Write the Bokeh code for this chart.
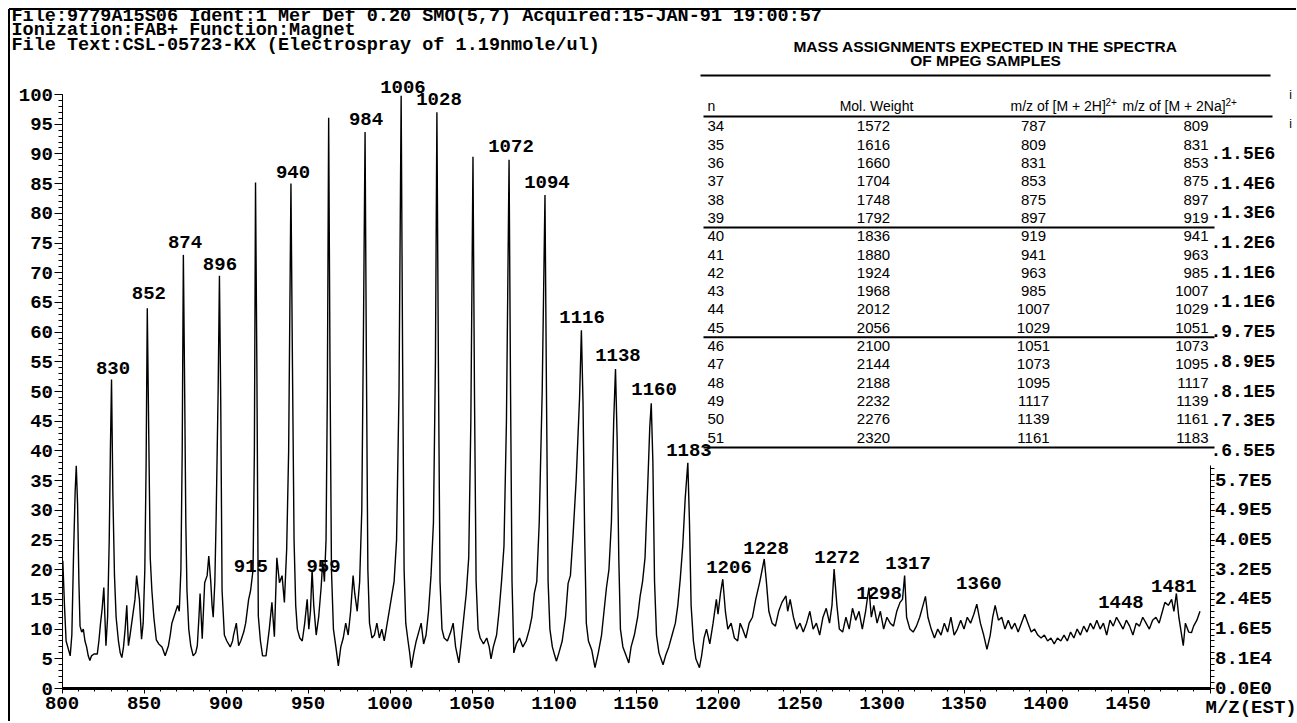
from bokeh.plotting import figure
from bokeh.models import (Range1d, LinearAxis, FixedTicker, Label, LabelSet, ColumnDataSource)
from bokeh.core.properties import value
from bokeh.embed import file_html
from bokeh.resources import INLINE

# ---------------- data ----------------
header_lines = [
    "File:9779A15S06 Ident:1 Mer Def 0.20 SMO(5,7) Acquired:15-JAN-91 19:00:57",
    "Ionization:FAB+ Function:Magnet",
    "File Text:CSL-05723-KX (Electrospray of 1.19nmole/ul)",
]

# spectrum trace (m/z, relative intensity %)
trace_800 = [(800.5,21.5),(801.5,14),(802.5,8),(804,6.5),(805,5.5),(806,9),(807,22),(808,33),(808.7,37.5),(809.5,31),
             (810.3,18),(811,10.5),(812,9.5),(813,10),(814,8),(815,7),(816,5.5),(817,4.7),(818,5.5),(819.5,5.8),
             (821.5,5.8),(822.5,8),(823.5,11),(824.5,13.5),(825.5,17),(826.8,7.2),(827.8,12),(828.8,25),(829.5,40),(830.2,52),
             (831,33),(832,19),(833,12),(834.4,8),(835.5,6),(836.5,5.2),(837.5,7),(838.5,10),(839.5,14),(840.5,7.2),
             (841.5,9),(843,12),(844.5,15),(845.5,19),(846.5,16.5),(847.2,15),(848.5,8.3),(849.5,11),(850.5,20),(851.3,38),
             (852,64),(852.8,45),(853.8,22),(854.8,16.5),(856,12),(857.5,8.2),(859,7.5),(861,7),(862.9,5.5),(864.9,7.2),
             (866,9),(867,11),(869,12.7),(870.5,14),(871.5,13),(872.5,20),(873.3,40),(874,73),(874.8,50),(875.5,28),
             (876.2,16.5),(877.3,10),(878.5,7.2),(880,5.5),(881.5,6),(882.5,7.2),(883.5,12),(884.2,16),(885.5,8.4),(887,17.8),
             (888.5,19),(889.5,22.3),(890.7,18),(891.5,14),(892.2,12),(893.2,18),(894,29),(895.2,50),(896,69.5),(896.8,48),
             (897.6,16.5),(899,9)]
trace_900 = [(900.5,8),(902.6,7),(904,8),(904.6,9),(906.3,11),(907.7,7.2),(909,8),(910.8,9.5),(912,11),(913.8,15),
             (915,16.5),(916.5,20),(917.3,40),(918,85.2),(918.8,55),(919.7,12.2),(921,8),(922.3,5.5),(924.4,5.5),(926.4,10),
             (928,14.5),(929.5,8.7),(931,22),(932.6,17.8),(934.2,19),(935.6,14.5),(937,23.5),(938.2,40),(939.6,85),(940.5,55),
             (941.5,25),(942.5,14),(943.5,10),(945,8.5),(946.5,8),(948,11),(949.5,15),(950.5,10),(951.5,13),(952.5,20),
             (953.5,14),(955,9),(956.5,12),(958,17),(959,21.5),(960,18),(961,25),(961.8,50),(962.6,96.1),(963.4,55),
             (964.3,20),(965.5,10),(967,7),(968.5,3.8),(970,7),(971.5,8.5),(973,11),(974.5,9),(976,13),(977.5,19),
             (978.5,16),(980,13),(981.5,18),(982.8,30),(983.8,60),(984.8,93.7),(985.6,55),(986.5,20),(987.5,11),(989,8.5),
             (990.5,9),(992,11),(993.5,8.5),(995,10),(996.5,8),(998,10.5),(999.5,13)]
trace_1000 = [(1001,15.5),(1002.5,18),(1004,25),(1005.5,50),(1006.8,99.8),(1007.7,55),(1008.6,20),(1009.6,11),(1011,8),(1012,6),
              (1013,3.5),(1014.5,6),(1016,8),(1017.5,9.5),(1019,11),(1020.5,7.5),(1022,9),(1023.5,13),(1025,19),(1026.5,28),
              (1027.7,55),(1028.6,97),(1029.5,55),(1030.5,18),(1031.7,10),(1033,8.5),(1035,8),(1037,9.5),(1038.5,11),(1040,7),
              (1042,4.3),(1043.5,8),(1045,12),(1046.5,16),(1048,22),(1049.3,45),(1050.6,89.5),(1051.5,50),(1052.5,18),(1053.7,10),
              (1055,8.5),(1057,7.5),(1059,8.5),(1060.5,7),(1061.6,5),(1063,7),(1065,9),(1066.5,13),(1068,18),(1069.5,24),
              (1071,45),(1072.6,89),(1073.5,50),(1074.4,18),(1075.5,6),(1077,7.5),(1079,8.5),(1081,7),(1083,8),(1085,10),
              (1086.5,12),(1088,16),(1089.5,18),(1091,28),(1092.8,50),(1094.5,83.1),(1095.4,50),(1096.4,18),(1097.5,10),(1099,7),
              (1100.5,5.5)]
trace_1100 = [(1101.5,4.6),(1103,6),(1105,8),(1107,12),(1108.6,17.7),(1110,19),(1111.6,25.7),(1113.5,35),(1115.6,49),(1116.7,60.3),
              (1117.7,48),(1118.7,25.7),(1119.7,11),(1121,8),(1123,6.5),(1125,3.5),(1127,6),(1129,9),(1130.5,13),(1132,17),
              (1133.5,20),(1135,28),(1136.4,45),(1137.5,53.8),(1138.5,42),(1139.5,22),(1140.5,10),(1142,7),(1144,5.5),(1145.6,4.3),
              (1147,7),(1149,9),(1151,12),(1152.5,15.5),(1154,18),(1155.5,22),(1157,33),(1158.4,44),(1159.3,48),(1160.3,38),
              (1161.3,18),(1162.5,9),(1164,6),(1166.5,4),(1168,5.5),(1170,7),(1172,9),(1174,11),(1175.5,14),(1177,18.5),
              (1178.5,24),(1180,32),(1181.6,38),(1182.6,28),(1183.6,14),(1185,8),(1186.5,5),(1188.7,3.5),(1190,5.5),(1191.5,8.5),
              (1193,10),(1195,7.5),(1197,11),(1199,15),(1200,12.5)]
trace_1200 = [(1201.5,16),(1202.9,18.4),(1204.5,13),(1206,10),(1208,11),(1210,8.5),(1212,8),(1213.5,11),(1215,10),(1217,8.5),
              (1219,11),(1221,12),(1223,15),(1225.5,18),(1228.2,21.8),(1229.5,18),(1231,13),(1233,11),(1235,10.5),(1237,13),
              (1239,14.5),(1241.4,15.6),(1242.5,13),(1244,15),(1246,12),(1248,10),(1250,11),(1252,9.5),(1254,11),(1256,13),
              (1258,10),(1260,11),(1262,9),(1264,12),(1266,13.5),(1268,11),(1269.5,14),(1270.8,20.1),(1272.5,14),(1274,10),
              (1276,9.5),(1278,12),(1280,10),(1282,13.5),(1284,11.5),(1286,13),(1288,10),(1290,13),(1292,17),(1293.5,12),
              (1295,14),(1297,11),(1299,13)]
trace_1300 = [(1301,10),(1303,12),(1305,11),(1307,10.5),(1309,13),(1311,14.5),(1312.5,15),(1313.8,19),(1315,12),(1317,10),
              (1319,9.5),(1321,10.5),(1323,12),(1325,14),(1326.5,15.5),(1328,12),(1330,10),(1332,8.5),(1334,10),(1336,9),
              (1338,11),(1340,9.5),(1342,12),(1344,9),(1346,10),(1348,11.5),(1350,10),(1352,12),(1354,11),(1356,12.5),
              (1357.8,14.2),(1360,11),(1362,9),(1364,6.6),(1366,9),(1367.5,12),(1369,14),(1371,11.5),(1373,12),(1375,10),
              (1377,11.5),(1379,10),(1381,11),(1383,9.5),(1385,11),(1387,12.5),(1389,11),(1391,9.5),(1393,10),(1395,9),
              (1397,8.5),(1399,9)]
trace_1400 = [(1401,8),(1403,8.5),(1405,7.5),(1407,8.5),(1409,8),(1411,9),(1413,8),(1415,9.5),(1417,8.5),(1419,10),
              (1421,9),(1423,10.5),(1425,9.5),(1427,11),(1429,10),(1431,11.5),(1433,10),(1435,11),(1437,9),(1439,11.5),
              (1441,10.5),(1443,12),(1445,11),(1447,10),(1449,11.5),(1451,10.5),(1453,9),(1455,11),(1457,10.5),(1459,12),
              (1461,11),(1463,10),(1465,11.5),(1467,12),(1469,11),(1471,13),(1472.5,14.5),(1474.6,14),(1476.6,15),(1478,13),
              (1479.5,16),(1481,12),(1483.7,7.2),(1485,11),(1487,9.5),(1488.7,9.4),(1490,10.5),(1492,11.5),(1493.9,13)]

# peak annotations: text, m/z where the text is centred, intensity (%) where it sits
peak_text = ["830", "852", "874", "896", "915", "940", "959", "984", "1006", "1028", "1072", "1094",
             "1116", "1138", "1160", "1183", "1206", "1228", "1272", "1298", "1317", "1360", "1448", "1481"]
peak_text_mz = [831.1, 853.0, 875.0, 896.3, 915.2, 940.9, 959.5, 985.4, 1007.9, 1029.9, 1073.8, 1095.7,
                1117.1, 1139.0, 1161.0, 1182.3, 1206.7, 1229.3, 1272.6, 1298.2, 1315.9, 1359.1, 1445.7, 1478.0]
peak_text_int = [53.9, 66.5, 75.1, 71.5, 20.7, 86.9, 20.7, 95.8, 101.2, 99.3, 91.4, 85.2,
                 62.5, 56.1, 50.5, 40.1, 20.4, 23.7, 22.1, 16.0, 21.2, 17.7, 14.5, 17.3]

# right (absolute) scale labels, one per 5 % step
abs_scale_pct = [0, 5, 10, 15, 20, 25, 30, 35, 40, 45, 50, 55, 60, 65, 70, 75, 80, 85, 90]
abs_scale_text = ["0.0E0", "8.1E4", "1.6E5", "2.4E5", "3.2E5", "4.0E5", "4.9E5", "5.7E5", "6.5E5", "7.3E5",
                  "8.1E5", "8.9E5", "9.7E5", "1.1E6", "1.1E6", "1.2E6", "1.3E6", "1.4E6", "1.5E6"]
abs_scale_stub_pct = [95, 100]   # only a tick stub survives at the right edge

# table of expected masses
table_title = ["MASS ASSIGNMENTS EXPECTED IN THE SPECTRA", "OF MPEG SAMPLES"]
table_n = [34, 35, 36, 37, 38, 39, 40, 41, 42, 43, 44, 45, 46, 47, 48, 49, 50, 51]
table_mw = [1572, 1616, 1660, 1704, 1748, 1792, 1836, 1880, 1924, 1968, 2012, 2056, 2100, 2144, 2188, 2232, 2276, 2320]
table_2h = [787, 809, 831, 853, 875, 897, 919, 941, 963, 985, 1007, 1029, 1051, 1073, 1095, 1117, 1139, 1161]
table_2na = [809, 831, 853, 875, 897, 919, 941, 963, 985, 1007, 1029, 1051, 1073, 1095, 1117, 1139, 1161, 1183]

# ---------------- geometry (page pixels -> data) ----------------
W, H = 1296, 721
X0_PX, XSCALE = 61.5, 1.64       # page x of m/z 800, px per m/z unit
Y0_PX, YSCALE = 688.0, 5.94      # page y of 0 %, px per %


def dx(px):
    return 800 + (px - X0_PX) / XSCALE


def dy(py):
    return (Y0_PX - py) / YSCALE


p = figure(width=W, height=H, output_backend="svg", toolbar_location=None,
           x_range=Range1d(dx(0), dx(W)), y_range=Range1d(dy(H), dy(0)),
           min_border_left=0, min_border_right=0, min_border_top=0, min_border_bottom=0)
p.outline_line_color = None
p.xgrid.visible = False
p.ygrid.visible = False
p.background_fill_color = "white"
p.border_fill_color = "white"

MONO = "Liberation Mono"
SANS = "Liberation Sans"


def style_axis(ax, tick_out, minor_out, standoff, size, line_w):
    ax.axis_line_width = line_w
    ax.axis_line_color = "black"
    ax.major_tick_out = tick_out
    ax.major_tick_in = 0
    ax.minor_tick_out = minor_out
    ax.minor_tick_in = 0
    ax.major_label_standoff = standoff
    ax.major_label_text_font = MONO
    ax.major_label_text_font_style = "bold"
    ax.major_label_text_font_size = size
    ax.major_label_text_color = "black"


# bottom axis (m/z)
xa = p.xaxis[0]
xa.fixed_location = 0
xa.ticker = FixedTicker(ticks=list(range(800, 1501, 50)), minor_ticks=list(range(800, 1501, 10)))
xa.bounds = (800, 1500)
xa.major_label_overrides = {1500: ""}
style_axis(xa, 5, 3, 3, "19px", 3)

# left axis (relative intensity)
ya = p.yaxis[0]
ya.fixed_location = 800
ya.ticker = FixedTicker(ticks=list(range(0, 101, 5)), minor_ticks=list(range(0, 101)))
ya.bounds = (0, 100)
style_axis(ya, 8, 4, 1, "19px", 1)

# right axis (absolute counts), visible below the table
lower = [i for i, v in enumerate(abs_scale_pct) if v < 38]
ra = LinearAxis(fixed_location=1500,
                ticker=FixedTicker(ticks=[abs_scale_pct[i] for i in lower], minor_ticks=list(range(0, 38))),
                bounds=(0, 37.5),
                major_label_overrides={abs_scale_pct[i]: abs_scale_text[i] for i in lower})
style_axis(ra, 4, 4, 1, "19px", 1)
p.add_layout(ra, "right")

# page frame lines (top and left)
p.segment(x0=[dx(8.5), dx(8.5)], y0=[dy(8.5), dy(8.5)], x1=[dx(W), dx(8.5)], y1=[dy(8.5), dy(H)],
          line_color="black", line_width=2)

# spectrum
xs, ys = [], []
for seg in (trace_800, trace_900, trace_1000, trace_1100, trace_1200, trace_1300, trace_1400):
    for m, v in seg:
        xs.append(m)
        ys.append(v)
p.line(xs, ys, line_color="black", line_width=1.4)

# peak labels
peak_src = ColumnDataSource(dict(x=peak_text_mz, y=peak_text_int, t=peak_text))
p.add_layout(LabelSet(x="x", y="y", text="t", source=peak_src, text_align="center", text_baseline="middle",
                      text_font=value(MONO), text_font_style="bold", text_font_size="19px", text_color="black"))

# header lines
for i, line in enumerate(header_lines):
    p.add_layout(Label(x=dx(11), y=dy(15.5 + 14.5 * i), text=line, text_align="left", text_baseline="middle",
                       text_font=MONO, text_font_style="bold", text_font_size="18.5px", text_color="black"))

# table title
for i, line in enumerate(table_title):
    p.add_layout(Label(x=dx(985), y=dy(46 + 13.5 * i), text=line, text_align="center", text_baseline="middle",
                       text_font=SANS, text_font_style="bold", text_font_size="15.5px", text_color="black"))

ROW_PITCH = 18.3
ROW_LAST_Y = 437.0


def row_y(k):
    return ROW_LAST_Y - (len(table_n) - 1 - k) * ROW_PITCH


# table rules
rule_left = [700, 703, 703, 703, 703]
rule_right = [1270, 1272, 1214, 1214, 1214]
rule_y = [75, 116, row_y(5) + 9.5, row_y(11) + 9.5, row_y(17) + 10]
p.segment(x0=[dx(v) for v in rule_left], x1=[dx(v) for v in rule_right],
          y0=[dy(v) for v in rule_y], y1=[dy(v) for v in rule_y], line_color="black", line_width=2)

# table header
hdr_y = dy(105)
p.add_layout(Label(x=dx(707), y=hdr_y, text="n", text_align="left", text_baseline="middle",
                   text_font=SANS, text_font_size="14px", text_color="black"))
p.add_layout(Label(x=dx(876), y=hdr_y, text="Mol. Weight", text_align="center", text_baseline="middle",
                   text_font=SANS, text_font_size="14px", text_color="black"))
for left_px, txt, sup_px in ((1010, "m/z of [M + 2H]", 1105), (1122, "m/z of [M + 2Na]", 1225)):
    p.add_layout(Label(x=dx(left_px), y=hdr_y, text=txt, text_align="left", text_baseline="middle",
                       text_font=SANS, text_font_size="14px", text_color="black"))
    p.add_layout(Label(x=dx(sup_px), y=dy(101), text="2+", text_align="left", text_baseline="middle",
                       text_font=SANS, text_font_size="10px", text_color="black"))

# table body
rows_y = [dy(row_y(k)) for k in range(len(table_n))]
cols = [
    (table_n, 707, "left"),
    (table_mw, 873, "center"),
    (table_2h, 1033, "center"),
    (table_2na, 1208, "right"),
]
for values, px, align in cols:
    src = ColumnDataSource(dict(x=[dx(px)] * len(values), y=rows_y, t=[str(v) for v in values]))
    p.add_layout(LabelSet(x="x", y="y", text="t", source=src, text_align=align, text_baseline="middle",
                          text_font=value(SANS), text_font_size="15px", text_color="black"))

# upper part of the absolute scale, printed beside the table
upper = [i for i, v in enumerate(abs_scale_pct) if v >= 38]
up_src = ColumnDataSource(dict(x=[dx(1210)] * len(upper), y=[abs_scale_pct[i] for i in upper],
                               t=["." + abs_scale_text[i] for i in upper]))
p.add_layout(LabelSet(x="x", y="y", text="t", source=up_src, text_align="left", text_baseline="middle",
                      text_font=value(MONO), text_font_style="bold", text_font_size="18px", text_color="black"))
stub_src = ColumnDataSource(dict(x=[dx(1290)] * len(abs_scale_stub_pct), y=abs_scale_stub_pct,
                                 t=["i"] * len(abs_scale_stub_pct)))
p.add_layout(LabelSet(x="x", y="y", text="t", source=stub_src, text_align="center", text_baseline="middle",
                      text_font=value(SANS), text_font_size="12px", text_color="black"))

# x-axis unit label at the 1500 position
p.add_layout(Label(x=dx(1205), y=dy(707), text="M/Z(EST)", text_align="left", text_baseline="middle",
                   text_font=MONO, text_font_style="bold", text_font_size="19px", text_color="black"))

open("out.html", "w").write(file_html(p, INLINE))
